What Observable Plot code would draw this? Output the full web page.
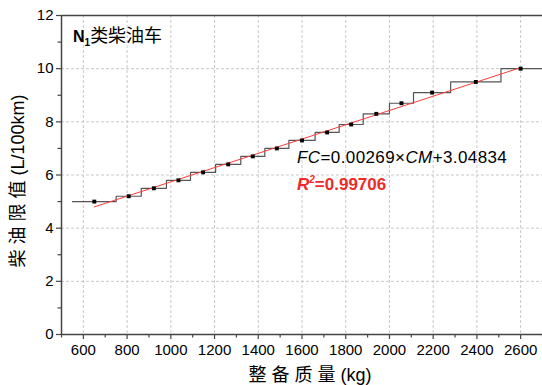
<!DOCTYPE html>
<html><head><meta charset="utf-8">
<script src="https://cdn.jsdelivr.net/npm/d3@7"></script>
<script src="https://cdn.jsdelivr.net/npm/@observablehq/plot@0.6"></script>
<style>body{margin:0;background:#fff} svg{display:block}</style>
</head><body><div id="chart"></div>
<script>
// Curb-mass brackets (kg) and the fuel-consumption limit (L/100km) of each bracket
const stepStart = [550, 750, 865, 980, 1090, 1205, 1320, 1430, 1540, 1660, 1770, 1880, 2000, 2110, 2280, 2510];
const stepEnd = 2700;
const limits = [5.0, 5.2, 5.5, 5.8, 6.1, 6.4, 6.7, 7.0, 7.3, 7.6, 7.9, 8.3, 8.7, 9.1, 9.5, 10.0];
// Representative mass of each bracket (black squares)
const pointMass = [650, 807.5, 922.5, 1035, 1147.5, 1262.5, 1375, 1485, 1600, 1715, 1825, 1940, 2055, 2195, 2395, 2600];
// Fitted line end points (red)
const fitMass = [650, 2600];
const fitFC = [4.80, 10.04];
// Ticks
const xTicks = [600, 800, 1000, 1200, 1400, 1600, 1800, 2000, 2200, 2400, 2600];
const xMinor = [500, 700, 900, 1100, 1300, 1500, 1700, 1900, 2100, 2300, 2500, 2700];
const yTicks = [0, 2, 4, 6, 8, 10, 12];
const yMinor = [1, 3, 5, 7, 9, 11];
const xLabel = "整 备 质 量 (kg)";
const yLabel = "柴 油 限 值 (L/100km)";
const titleMain = "N";
const titleSub = "1";
const titleRest = "类柴油车";

const FONT = "'Liberation Sans', Arial, 'Noto Sans CJK SC', sans-serif";
const AX = "#444";

const stepData = stepStart.map((x, i) => ({x, y: limits[i]}));
stepData.push({x: stepEnd, y: limits[limits.length - 1]});
const points = pointMass.map((x, i) => ({x, y: limits[i]}));
const fit = fitMass.map((x, i) => ({x, y: fitFC[i]}));

const plot = Plot.plot({
  width: 542, height: 385,
  marginLeft: 61, marginRight: 0, marginTop: 15, marginBottom: 51,
  style: {fontFamily: FONT, fontSize: "15px", color: "#000", background: "#fff"},
  x: {domain: [500, 2700]},
  y: {domain: [0, 12]},
  marks: [
    Plot.gridX(xTicks, {stroke: "#bbb", strokeOpacity: 1, strokeDasharray: "3,2", strokeWidth: 0.8}),
    Plot.gridY(yTicks.filter(d => d > 0 && d < 12), {stroke: "#bbb", strokeOpacity: 1, strokeDasharray: "3,2", strokeWidth: 0.8}),
    Plot.line(stepData, {x: "x", y: "y", curve: "step-after", stroke: "#555", strokeWidth: 1.2}),
    Plot.line(fit, {x: "x", y: "y", stroke: "#ff3b3b", strokeWidth: 1}),
    Plot.dot(points, {x: "x", y: "y", symbol: "square", r: 2.2, fill: "#000", stroke: null}),
    Plot.axisX(xMinor, {tickSize: 3.5, text: null, stroke: AX, strokeWidth: 1.2, label: null}),
    Plot.axisX(xTicks, {tickSize: 5, tickPadding: 5, tickFormat: d => String(d), stroke: AX, strokeWidth: 1.2, label: null, fill: "#000", fontSize: 15}),
    Plot.axisY(yMinor, {tickSize: 3.5, text: null, stroke: AX, strokeWidth: 1.2, label: null}),
    Plot.axisY(yTicks, {tickSize: 5, tickPadding: 3, tickFormat: d => String(d), stroke: AX, strokeWidth: 1.2, label: null, fill: "#000", fontSize: 15}),
    Plot.ruleX([500], {stroke: AX, strokeWidth: 1.5}),
    Plot.ruleY([0], {stroke: AX, strokeWidth: 1.5}),
    Plot.ruleY([12], {stroke: AX, strokeWidth: 1.5})
  ]
});

document.getElementById("chart").append(plot);

const sx = plot.scale("x"), sy = plot.scale("y");
const svg = d3.select(plot);
const g = svg.append("g").attr("font-family", FONT).attr("text-anchor", "start");

// Title inside panel
const t = g.append("text").attr("x", sx.apply(500) + 12).attr("y", sy.apply(11.25) + 7)
  .attr("font-size", 16).attr("font-weight", "bold").attr("fill", "#000");
t.append("tspan").text(titleMain);
t.append("tspan").attr("font-size", 10).attr("dy", 4).text(titleSub);
t.append("tspan").attr("dy", -4).attr("font-weight", "normal").attr("font-size", 18).text(titleRest);

// Equation
const eq = g.append("text").attr("x", 297).attr("y", sy.apply(6.45)).attr("font-size", 17)
  .attr("letter-spacing", 0.4).attr("fill", "#000");
eq.append("tspan").attr("font-style", "italic").text("FC");
eq.append("tspan").text("=0.00269×");
eq.append("tspan").attr("font-style", "italic").text("CM");
eq.append("tspan").text("+3.04834");

const r2 = g.append("text").attr("x", 297).attr("y", sy.apply(5.4)).attr("font-size", 17)
  .attr("font-weight", "bold").attr("fill", "#ee2a2a");
r2.append("tspan").attr("font-style", "italic").text("R");
r2.append("tspan").attr("font-size", 10).attr("dy", -7).attr("font-style", "italic").text("2");
r2.append("tspan").attr("dy", 7).text("=0.99706");

// Axis labels
g.append("text").attr("x", 310).attr("y", 381).attr("text-anchor", "middle")
  .attr("font-size", 18).attr("fill", "#000").text(xLabel);
g.append("text").attr("transform", `translate(24,181) rotate(-90)`).attr("text-anchor", "middle")
  .attr("font-size", 18).attr("fill", "#000").text(yLabel);
</script></body></html>
